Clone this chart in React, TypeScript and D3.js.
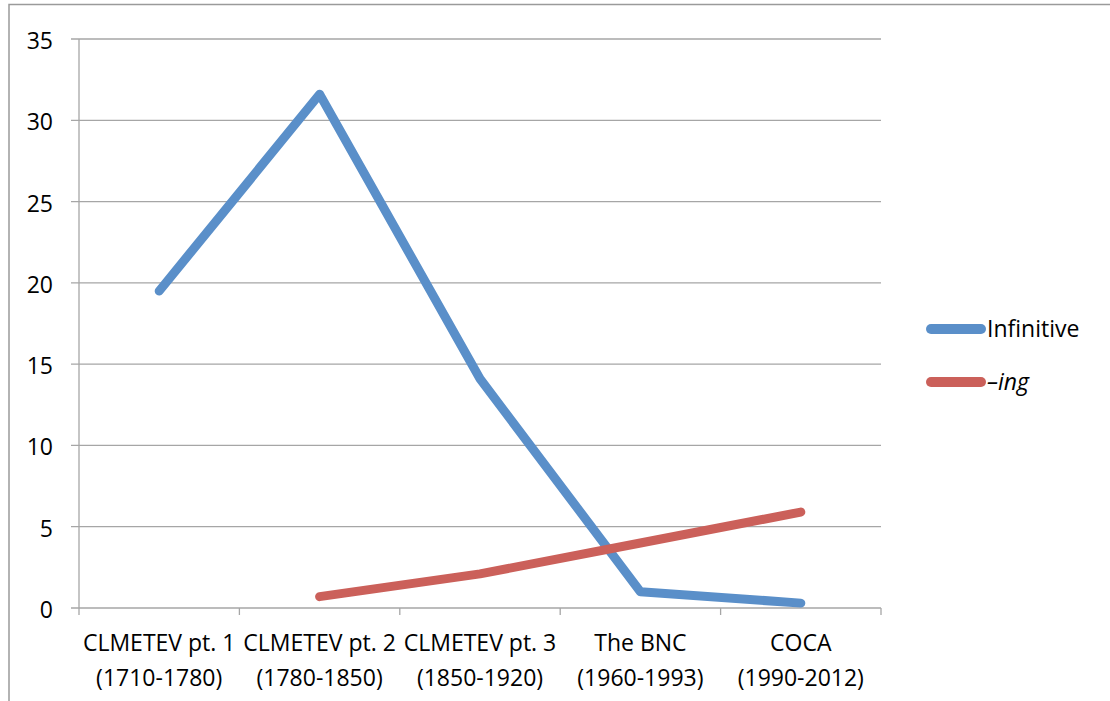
import React from "react";
import * as d3 from "d3";

const categories = [
  ["CLMETEV pt. 1", "(1710-1780)"],
  ["CLMETEV pt. 2", "(1780-1850)"],
  ["CLMETEV pt. 3", "(1850-1920)"],
  ["The BNC", "(1960-1993)"],
  ["COCA", "(1990-2012)"],
];
const infinitive: (number | null)[] = [19.5, 31.6, 14.1, 1.0, 0.3];
const ing: (number | null)[] = [null, 0.7, 2.1, 4.0, 5.9];
const yTicks = [0, 5, 10, 15, 20, 25, 30, 35];

const W = 1110, H = 701;
const left = 79, right = 881, top = 39, bottom = 608;
const FONT = "'Open Sans', sans-serif";
const FS = 23;

export default function App() {
  const x = d3.scaleBand<number>().domain(d3.range(categories.length)).range([left, right]);
  const y = d3.scaleLinear().domain([0, 35]).range([bottom, top]);
  const cx = (i: number) => (x(i) as number) + x.bandwidth() / 2;
  const line = d3
    .line<number | null>()
    .defined((d) => d !== null)
    .x((_, i) => cx(i))
    .y((d) => y(d as number));
  const series = [
    { name: "Infinitive", data: infinitive, color: "#5A8FC9", italic: false },
    { name: "\u2013ing", data: ing, color: "#CB605A", italic: true },
  ];
  const tickXs = d3.range(categories.length + 1).map((i) => left + i * x.bandwidth());
  return (
    <svg width={W} height={H} style={{ position: "absolute", left: 0, top: 0, background: "#fff" }}>
      <rect x={9} y={4.5} width={W} height={H} fill="#fff" stroke="#9a9a9a" strokeWidth={1.5} />
      {yTicks.map((t) => (
        <g key={t}>
          <line x1={71} x2={right} y1={y(t)} y2={y(t)} stroke="#a6a6a6" strokeWidth={1.3} />
          <text x={53} y={y(t) + 10} textAnchor="end" fontFamily={FONT} fontSize={FS} fill="#000">
            {t}
          </text>
        </g>
      ))}
      <line x1={left} x2={left} y1={top} y2={bottom} stroke="#a6a6a6" strokeWidth={1.3} />
      {tickXs.map((tx, i) => (
        <line key={i} x1={tx} x2={tx} y1={bottom} y2={bottom + 7} stroke="#a6a6a6" strokeWidth={1.3} />
      ))}
      {categories.map((c, i) => (
        <text key={i} textAnchor="middle" fontFamily={FONT} fontSize={FS} fill="#000">
          <tspan x={cx(i)} y={651}>{c[0]}</tspan>
          <tspan x={cx(i)} y={686}>{c[1]}</tspan>
        </text>
      ))}
      {series.map((s) => (
        <path key={s.name} d={line(s.data) || ""} fill="none" stroke={s.color} strokeWidth={9} strokeLinecap="round" strokeLinejoin="round" />
      ))}
      {series.map((s, i) => (
        <g key={s.name} transform={`translate(0, ${329 + i * 53})`}>
          <line x1={931} x2={981} y1={0} y2={0} stroke={s.color} strokeWidth={10} strokeLinecap="round" />
          <text x={987} y={8} fontFamily={FONT} fontSize={FS} fontStyle={s.italic ? "italic" : "normal"} fill="#000">
            {s.name}
          </text>
        </g>
      ))}
    </svg>
  );
}
